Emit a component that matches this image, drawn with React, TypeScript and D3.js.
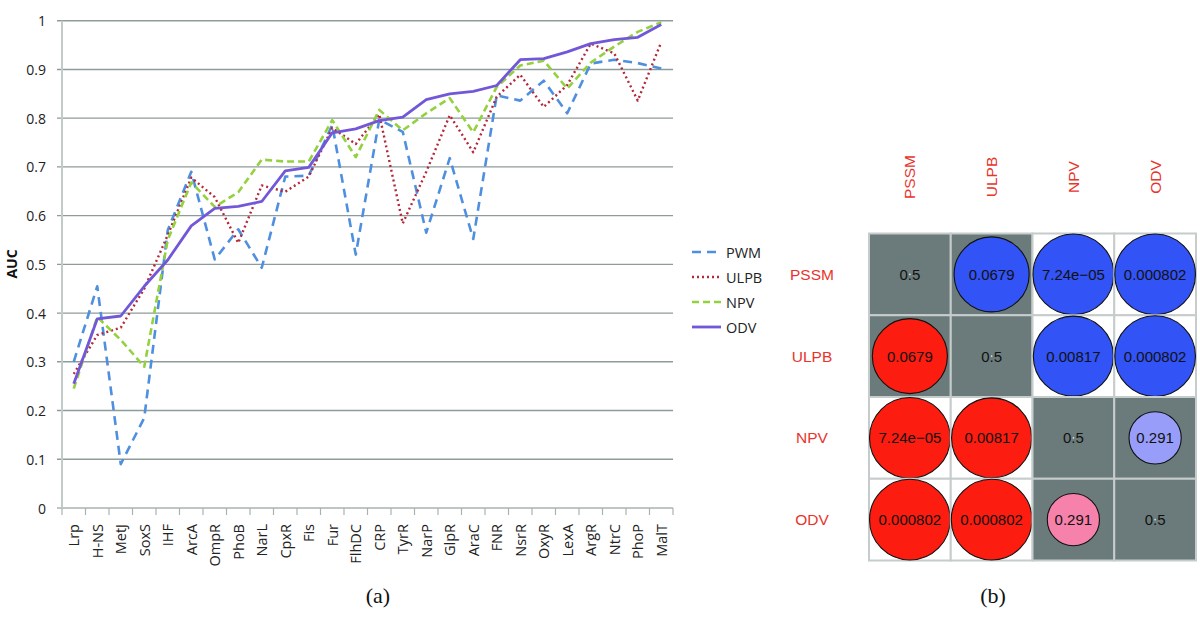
import React from 'react';
import * as d3 from 'd3';

// regulators (x categories)
const categories = ['Lrp', 'H-NS', 'MetJ', 'SoxS', 'IHF', 'ArcA', 'OmpR', 'PhoB', 'NarL', 'CpxR', 'Fis', 'Fur', 'FlhDC', 'CRP',
  'TyrR', 'NarP', 'GlpR', 'AraC', 'FNR', 'NsrR', 'OxyR', 'LexA', 'ArgR', 'NtrC', 'PhoP', 'MalT'];

// AUC per method
const pwm = [0.30, 0.455, 0.09, 0.185, 0.57, 0.69, 0.51, 0.572, 0.493, 0.68, 0.682, 0.786, 0.52, 0.797, 0.772, 0.565, 0.718,
  0.552, 0.847, 0.836, 0.877, 0.81, 0.912, 0.92, 0.913, 0.902];
const ulpb = [0.275, 0.355, 0.37, 0.45, 0.56, 0.678, 0.638, 0.544, 0.662, 0.649, 0.68, 0.78, 0.747, 0.808, 0.584, 0.69, 0.806,
  0.73, 0.844, 0.889, 0.823, 0.868, 0.953, 0.933, 0.836, 0.956];
const npv = [0.245, 0.392, 0.345, 0.29, 0.55, 0.668, 0.618, 0.648, 0.715, 0.711, 0.711, 0.796, 0.72, 0.817, 0.775, 0.81, 0.841,
  0.771, 0.864, 0.908, 0.918, 0.861, 0.914, 0.947, 0.977, 0.997];
const odv = [0.255, 0.388, 0.394, 0.455, 0.509, 0.579, 0.615, 0.619, 0.629, 0.692, 0.699, 0.77, 0.778, 0.795, 0.802, 0.838,
  0.85, 0.855, 0.867, 0.92, 0.922, 0.936, 0.953, 0.961, 0.966, 0.992];

const yTicks = [0, 0.1, 0.2, 0.3, 0.4, 0.5, 0.6, 0.7, 0.8, 0.9, 1];

// pairwise p-values (panel b)
const methods = ['PSSM', 'ULPB', 'NPV', 'ODV'];
const pPSSM = [0.5, 0.0679, 7.24e-5, 0.000802];
const pULPB = [0.0679, 0.5, 0.00817, 0.000802];
const pNPV = [7.24e-5, 0.00817, 0.5, 0.291];
const pODV = [0.000802, 0.000802, 0.291, 0.5];

const series = [
  { name: 'PWM', values: pwm, color: '#4f8fe0', width: 2.6, dash: '9,6' },
  { name: 'ULPB', values: ulpb, color: '#b3283a', width: 2.4, dash: '2,3' },
  { name: 'NPV', values: npv, color: '#93d13e', width: 2.6, dash: '7,4' },
  { name: 'ODV', values: odv, color: '#7258d8', width: 2.8, dash: null },
];

const fmtP = (p: number) => (p < 1e-4 ? p.toExponential(2).replace('-', '\u2212').replace('e\u22125', 'e\u221205') : String(p));

const sans = '"Open Sans", sans-serif';
const arial = '"Liberation Sans", Arial, sans-serif';

export default function App() {
  const x = d3.scaleBand().domain(categories).range([62, 673]);
  const y = d3.scaleLinear().domain([0, 1]).range([508, 20.7]);
  const cx = (c: string) => (x(c) as number) + x.bandwidth() / 2;

  const line = d3.line<number>()
    .x((_, i) => cx(categories[i]))
    .y(d => y(d));

  // matrix scales
  const rows = [pPSSM, pULPB, pNPV, pODV];
  const m = d3.scaleBand().domain(methods).range([0, 327]);
  const mx = 869, my = 233.5;
  const cell = m.bandwidth();
  const r = d3.scaleSqrt().domain([0, 1]).range([0, cell / 2 - 0.5]);
  const blue = d3.scaleLinear<string>().domain([0.4, 0.85]).range(['#9ba0f8', '#3253f6']).clamp(true);
  const red = d3.scaleLinear<string>().domain([0.4, 0.85]).range(['#f685b0', '#fc1c10']).clamp(true);

  return (
    <svg width={1200} height={618} style={{ position: 'absolute', left: 0, top: 0, background: '#fff' }}>
      {/* grid */}
      {yTicks.map(t => (
        <g key={t}>
          <line x1={57} x2={673} y1={y(t)} y2={y(t)} stroke={t === 0 ? '#a9b2b2' : '#8e9b9b'} strokeWidth={1.4} />
          <text x={46} y={y(t)} textAnchor="end" dominantBaseline="central" fontFamily={sans} fontSize={14} fill="#222">
            {d3.format('~g')(t)}
          </text>
        </g>
      ))}
      <line x1={62} x2={62} y1={y(1)} y2={y(0)} stroke="#c3caca" strokeWidth={2} />
      {d3.range(categories.length + 1).map(i => (
        <line key={i} x1={62 + i * x.bandwidth()} x2={62 + i * x.bandwidth()} y1={y(0)} y2={y(0) + 7} stroke="#a9b2b2" strokeWidth={1.2} />
      ))}
      {categories.map(c => (
        <text key={c} transform={`translate(${cx(c)},${524}) rotate(-90)`} textAnchor="end" dominantBaseline="central"
          fontFamily={sans} fontSize={14.5} fill="#222">{c}</text>
      ))}
      <text transform="translate(11,264) rotate(-90)" textAnchor="middle" dominantBaseline="central" fontFamily={sans}
        fontSize={14} fontWeight="bold" fill="#111">AUC</text>

      {series.map(s => (
        <path key={s.name} d={line(s.values) as string} fill="none" stroke={s.color} strokeWidth={s.width}
          strokeDasharray={s.dash ?? undefined} strokeLinejoin="round" />
      ))}

      {/* legend */}
      {series.map((s, i) => (
        <g key={s.name} transform={`translate(692,${252 + i * 25})`}>
          <line x1={0} x2={29} y1={0} y2={0} stroke={s.color} strokeWidth={s.width} strokeDasharray={s.dash ?? undefined} />
          <text x={34} y={0} dominantBaseline="central" fontFamily={sans} fontSize={14.5} fill="#222">{s.name}</text>
        </g>
      ))}

      <text x={378} y={603} textAnchor="middle" fontFamily='"Liberation Serif", serif' fontSize={22} fill="#111">(a)</text>

      {/* panel b */}
      {rows.map((row, i) => row.map((p, j) => {
        const x0 = mx + (m(methods[j]) as number);
        const y0 = my + (m(methods[i]) as number);
        const k = Math.abs(1 - 2 * p);
        const fill = j > i ? blue(k) : red(k);
        return (
          <g key={`${i}-${j}`}>
            <rect x={x0} y={y0} width={cell} height={cell} fill={p > 0.05 ? '#6b7b7b' : '#fff'} stroke="#c6cccc" strokeWidth={2} />
            {k > 0 ? (
              <circle cx={x0 + cell / 2} cy={y0 + cell / 2} r={r(k)} fill={fill} stroke="#111" strokeWidth={1.1} />
            ) : (
              <circle cx={x0 + cell / 2} cy={y0 + cell / 2} r={0.8} fill="#dfe3e3" />
            )}
            <text x={x0 + cell / 2} y={y0 + cell / 2} textAnchor="middle" dominantBaseline="central" fontFamily={arial}
              fontSize={15} fill="#111">{fmtP(p)}</text>
          </g>
        );
      }))}
      {methods.map(name => (
        <g key={name}>
          <text x={812} y={my + (m(name) as number) + cell / 2} textAnchor="middle" dominantBaseline="central"
            fontFamily={arial} fontSize={15.5} fill="#e8342b">{name}</text>
          <text transform={`translate(${mx + (m(name) as number) + cell / 2},177) rotate(-90)`} textAnchor="middle"
            dominantBaseline="central" fontFamily={arial} fontSize={15.5} fill="#e8342b">{name}</text>
        </g>
      ))}
      <text x={993} y={603} textAnchor="middle" fontFamily='"Liberation Serif", serif' fontSize={22} fill="#111">(b)</text>
    </svg>
  );
}
